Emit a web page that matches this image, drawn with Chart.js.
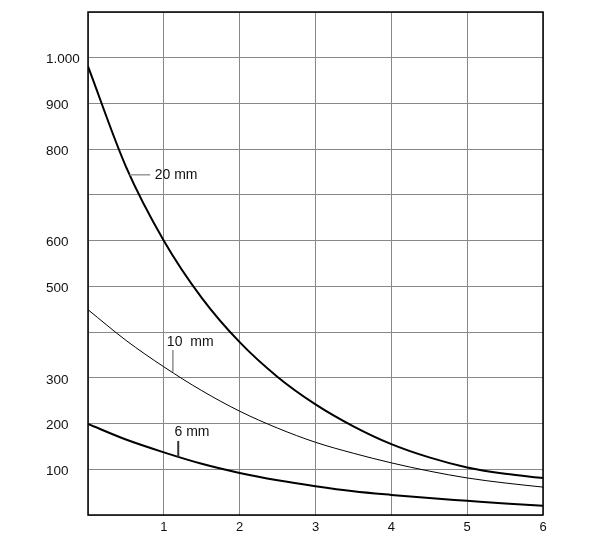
<!DOCTYPE html>
<html>
<head>
<meta charset="utf-8">
<script src="https://cdn.jsdelivr.net/npm/chart.js@4/dist/chart.umd.min.js"></script>
<style>
  body { margin: 0; background: #fff; }
  #wrap { width: 590px; height: 554px; position: relative; }
</style>
</head>
<body>
<div id="wrap"><canvas id="chart"></canvas></div>
<script>
// valori
const xValues = [0, 0.5, 1, 1.5, 2, 2.5, 3, 3.5, 4, 4.5, 5, 5.5, 6];
const mm20 = [981, 762, 600, 475, 378, 302, 242, 194, 155, 126, 104, 90, 81];
const mm10 = [449, 382, 324, 272, 227, 190, 159, 135, 114, 96, 81, 70, 61];
const mm6 = [199, 165, 137, 112, 92, 76, 63, 52, 44, 37, 31, 25, 20];
const yTickLabels = { 100: '100', 200: '200', 300: '300', 500: '500', 600: '600', 800: '800', 900: '900', 1000: '1.000' };
const xTickLabels = { 1: '1', 2: '2', 3: '3', 4: '4', 5: '5', 6: '6' };

// etichette delle curve (coordinate in unità dei dati)
const curveLabels = [
  { text: '20 mm', x: 0.88, y: 744, lead: [[0.55, 744], [0.82, 744]], color: '#999', width: 1.5 },
  { text: '10  mm', x: 1.04, y: 379, lead: [[1.12, 361], [1.12, 313]], color: '#555', width: 1 },
  { text: '6 mm', x: 1.14, y: 182, lead: [[1.19, 162], [1.19, 127]], color: '#333', width: 2 }
];

function toPoints(ys) {
  return xValues.map((x, i) => ({ x: x, y: ys[i] }));
}

const frame = {
  id: 'frame',
  afterDatasetsDraw(chart) {
    const c = chart.ctx, a = chart.chartArea;
    const sx = chart.scales.x, sy = chart.scales.y;
    c.save();
    c.strokeStyle = '#000';
    c.lineWidth = 1.5;
    c.strokeRect(a.left, a.top, a.right - a.left, a.bottom - a.top);
    c.font = '14px "Liberation Sans", Arial, sans-serif';
    c.textBaseline = 'middle';
    c.textAlign = 'left';
    curveLabels.forEach(l => {
      c.strokeStyle = l.color;
      c.lineWidth = l.width;
      c.beginPath();
      c.moveTo(sx.getPixelForValue(l.lead[0][0]), sy.getPixelForValue(l.lead[0][1]));
      c.lineTo(sx.getPixelForValue(l.lead[1][0]), sy.getPixelForValue(l.lead[1][1]));
      c.stroke();
      c.fillStyle = '#111';
      c.fillText(l.text, sx.getPixelForValue(l.x), sy.getPixelForValue(l.y));
    });
    c.restore();
  }
};

const common = { pointRadius: 0, fill: false, cubicInterpolationMode: 'monotone', borderColor: '#000' };

new Chart(document.getElementById('chart'), {
  type: 'line',
  data: {
    datasets: [
      Object.assign({ data: toPoints(mm20), borderWidth: 2 }, common),
      Object.assign({ data: toPoints(mm10), borderWidth: 1 }, common),
      Object.assign({ data: toPoints(mm6), borderWidth: 2 }, common)
    ]
  },
  options: {
    responsive: true,
    maintainAspectRatio: false,
    animation: false,
    layout: { padding: { left: 46, right: 47, top: 12, bottom: 0 } },
    plugins: { legend: { display: false }, tooltip: { enabled: false } },
    scales: {
      x: {
        type: 'linear',
        min: 0,
        max: 6,
        afterFit: s => { s.height = 39; },
        grid: { color: '#888', lineWidth: 1, drawTicks: false },
        border: { display: false },
        ticks: {
          stepSize: 1,
          padding: 5,
          color: '#111',
          font: { family: '"Liberation Sans", Arial, sans-serif', size: 13 },
          maxRotation: 0,
          callback: v => xTickLabels[v] || ''
        }
      },
      y: {
        min: 0,
        max: 1100,
        afterFit: s => { s.width = 42; },
        grid: { color: '#888', lineWidth: 1, drawTicks: false },
        border: { display: false },
        ticks: {
          stepSize: 100,
          crossAlign: 'far',
          labelOffset: 2,
          color: '#111',
          font: { family: '"Liberation Sans", Arial, sans-serif', size: 13.5 },
          callback: v => yTickLabels[v] || ''
        }
      }
    }
  },
  plugins: [frame]
});
</script>
</body>
</html>
